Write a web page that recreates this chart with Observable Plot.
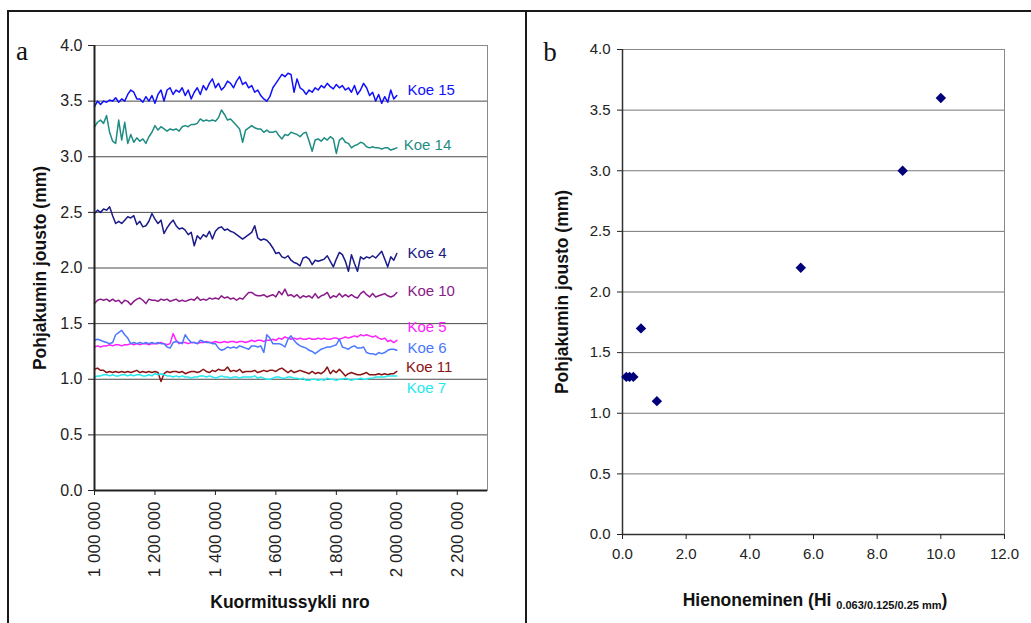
<!DOCTYPE html>
<html><head><meta charset="utf-8">
<script src="https://cdn.jsdelivr.net/npm/d3@7"></script>
<script src="https://cdn.jsdelivr.net/npm/@observablehq/plot@0.6"></script>
<style>
html,body{margin:0;padding:0;background:#fff;}
#wrap{position:relative;width:1031px;height:623px;overflow:hidden;background:#fff;}
#left{position:absolute;left:0;top:0;}
#right{position:absolute;left:527px;top:0;}
.bar{position:absolute;background:#1a1a1a;}
</style></head><body>
<div id="wrap"><div id="left"></div><div id="right"></div>
<div class="bar" style="left:8px;top:10px;width:1023px;height:2px"></div>
<div class="bar" style="left:7px;top:10px;width:2px;height:613px"></div>
<div class="bar" style="left:525px;top:10px;width:2px;height:613px"></div>
</div>
<script>
// ---------- Panel a data ----------
const cycles = [1000000,1010000,1020000,1030000,1040000,1050000,1060000,1070000,1080000,1090000,
1100000,1110000,1120000,1130000,1140000,1150000,1160000,1170000,1180000,1190000,
1200000,1210000,1220000,1230000,1240000,1250000,1260000,1270000,1280000,1290000,
1300000,1310000,1320000,1330000,1340000,1350000,1360000,1370000,1380000,1390000,
1400000,1410000,1420000,1430000,1440000,1450000,1460000,1470000,1480000,1490000,
1500000,1510000,1520000,1530000,1540000,1550000,1560000,1570000,1580000,1590000,
1600000,1610000,1620000,1630000,1640000,1650000,1660000,1670000,1680000,1690000,
1700000,1710000,1720000,1730000,1740000,1750000,1760000,1770000,1780000,1790000,
1800000,1810000,1820000,1830000,1840000,1850000,1860000,1870000,1880000,1890000,
1900000,1910000,1920000,1930000,1940000,1950000,1960000,1970000,1980000,1990000,
2000000];

const koe15 = [3.45,3.50,3.47,3.50,3.49, 3.51,3.50,3.53,3.49,3.52, 3.50,3.56,3.60,3.58,3.52,
3.52,3.49,3.54,3.50,3.55, 3.48,3.56,3.60,3.50,3.60, 3.62,3.56,3.60,3.58,3.62,
3.55,3.60,3.52,3.58,3.62, 3.56,3.64,3.60,3.66,3.70, 3.62,3.66,3.60,3.63,3.68,
3.66,3.62,3.68,3.72,3.65, 3.67,3.62,3.64,3.58,3.60, 3.55,3.52,3.50,3.54,3.62,
3.66,3.70,3.74,3.72,3.75, 3.74,3.58,3.70,3.62,3.60, 3.56,3.60,3.58,3.62,3.60,
3.64,3.62,3.66,3.63,3.61, 3.65,3.62,3.64,3.60,3.62, 3.58,3.64,3.56,3.60,3.66,
3.62,3.55,3.58,3.50,3.56, 3.48,3.54,3.49,3.60,3.52, 3.55];

const koe14 = [3.27,3.31,3.33,3.30,3.37, 3.22,3.14,3.12,3.33,3.15, 3.31,3.12,3.20,3.13,3.17,
3.14,3.16,3.12,3.18,3.22, 3.28,3.24,3.27,3.25,3.23, 3.25,3.24,3.25,3.23,3.27,
3.28,3.27,3.29,3.29,3.30, 3.34,3.32,3.33,3.32,3.33, 3.32,3.35,3.42,3.38,3.33,
3.34,3.31,3.28,3.25,3.13, 3.24,3.26,3.28,3.26,3.25, 3.25,3.22,3.24,3.22,3.22,
3.23,3.19,3.16,3.20,3.19, 3.22,3.21,3.20,3.18,3.21, 3.22,3.14,3.05,3.15,3.16,
3.14,3.17,3.15,3.18,3.16, 3.03,3.15,3.17,3.13,3.12, 3.08,3.10,3.11,3.13,3.12,
3.09,3.08,3.09,3.08,3.08, 3.07,3.08,3.08,3.06,3.07, 3.08];

const koe4 = [2.49,2.52,2.50,2.53,2.52, 2.55,2.47,2.40,2.42,2.40, 2.43,2.46,2.45,2.47,2.39,
2.42,2.37,2.38,2.42,2.49, 2.44,2.40,2.43,2.31,2.36, 2.40,2.43,2.38,2.35,2.36,
2.34,2.30,2.32,2.20,2.29, 2.26,2.30,2.28,2.33,2.26, 2.33,2.36,2.37,2.34,2.35,
2.33,2.32,2.30,2.28,2.26, 2.28,2.30,2.32,2.38,2.27, 2.25,2.26,2.25,2.22,2.18,
2.13,2.14,2.10,2.09,2.11, 2.07,2.05,2.04,2.02,2.09, 2.10,2.08,2.03,2.07,2.06,
2.07,2.08,2.11,2.06,2.01, 2.08,2.14,2.12,2.06,1.97, 2.12,2.04,1.97,2.10,2.08,
2.10,2.09,2.11,2.09,2.12, 2.15,2.08,2.01,2.10,2.07, 2.13];

const koe10 = [1.68,1.71,1.72,1.71,1.72, 1.70,1.72,1.70,1.71,1.68, 1.71,1.70,1.67,1.70,1.72,
1.73,1.71,1.68,1.72,1.71, 1.71,1.70,1.72,1.71,1.72, 1.70,1.71,1.72,1.70,1.71,
1.70,1.71,1.72,1.71,1.74, 1.71,1.72,1.71,1.73,1.72, 1.73,1.72,1.75,1.73,1.74,
1.72,1.73,1.71,1.73,1.72, 1.75,1.78,1.78,1.76,1.75, 1.75,1.76,1.74,1.75,1.76,
1.74,1.79,1.76,1.81,1.75, 1.76,1.74,1.76,1.73,1.75, 1.74,1.75,1.73,1.77,1.73,
1.75,1.76,1.78,1.73,1.75, 1.74,1.77,1.74,1.76,1.74, 1.76,1.74,1.73,1.77,1.79,
1.76,1.74,1.77,1.74,1.75, 1.76,1.77,1.75,1.74,1.75, 1.78];

const koe5 = [1.29,1.30,1.29,1.30,1.30, 1.31,1.30,1.31,1.31,1.30, 1.31,1.31,1.32,1.31,1.32,
1.31,1.32,1.32,1.31,1.32, 1.32,1.32,1.33,1.32,1.31, 1.32,1.41,1.35,1.32,1.33,
1.33,1.32,1.33,1.33,1.32, 1.33,1.33,1.34,1.33,1.33, 1.34,1.33,1.33,1.34,1.33,
1.34,1.34,1.33,1.34,1.34, 1.33,1.34,1.35,1.34,1.35, 1.35,1.34,1.35,1.35,1.36,
1.35,1.37,1.36,1.38,1.37, 1.36,1.37,1.36,1.37,1.36, 1.36,1.37,1.36,1.36,1.37,
1.36,1.37,1.36,1.36,1.37, 1.37,1.36,1.37,1.38,1.37, 1.38,1.39,1.38,1.40,1.39,
1.40,1.39,1.38,1.39,1.37, 1.36,1.37,1.34,1.35,1.33, 1.35];

const koe6 = [1.35,1.36,1.35,1.34,1.33, 1.32,1.33,1.40,1.42,1.44, 1.40,1.37,1.32,1.33,1.32,
1.33,1.32,1.33,1.32,1.33, 1.32,1.33,1.32,1.32,1.29, 1.28,1.33,1.34,1.33,1.32,
1.40,1.36,1.33,1.33,1.32, 1.35,1.34,1.33,1.33,1.32, 1.32,1.28,1.26,1.27,1.29,
1.28,1.29,1.28,1.30,1.29, 1.28,1.27,1.30,1.30,1.29, 1.30,1.24,1.40,1.37,1.32,
1.32,1.32,1.31,1.29,1.36, 1.39,1.35,1.32,1.30,1.29, 1.28,1.26,1.25,1.23,1.25,
1.27,1.28,1.29,1.29,1.30, 1.31,1.36,1.29,1.28,1.27, 1.29,1.30,1.28,1.28,1.29,
1.24,1.23,1.23,1.22,1.24, 1.23,1.24,1.26,1.27,1.27, 1.26];

const koe11 = [1.09,1.10,1.08,1.08,1.06, 1.07,1.06,1.07,1.06,1.07, 1.06,1.07,1.06,1.07,1.08,
1.06,1.07,1.06,1.07,1.06, 1.07,1.06,0.98,1.05,1.07, 1.06,1.07,1.07,1.06,1.07,
1.05,1.06,1.07,1.07,1.06, 1.07,1.09,1.07,1.06,1.08, 1.07,1.09,1.08,1.08,1.11,
1.07,1.08,1.07,1.09,1.06, 1.07,1.07,1.07,1.08,1.06, 1.07,1.08,1.07,1.08,1.08,
1.07,1.09,1.10,1.08,1.06, 1.08,1.06,1.07,1.08,1.07, 1.06,1.05,1.07,1.05,1.06,
1.05,1.07,1.11,1.05,1.08, 1.06,1.09,1.06,1.03,1.05, 1.06,1.05,1.04,1.04,1.05,
1.06,1.04,1.04,1.04,1.05, 1.04,1.05,1.04,1.05,1.05, 1.07];

const koe7 = [1.02,1.03,1.03,1.04,1.04, 1.03,1.04,1.03,1.03,1.04, 1.04,1.03,1.04,1.03,1.04,
1.04,1.03,1.03,1.04,1.03, 1.05,1.04,1.05,1.04,1.03, 1.03,1.02,1.03,1.02,1.03,
1.02,1.02,1.01,1.02,1.02, 1.03,1.03,1.02,1.03,1.02, 1.01,1.02,1.03,1.02,1.02,
1.01,1.02,1.02,1.01,1.02, 1.02,1.02,1.02,1.03,1.01, 1.02,1.01,1.00,1.00,1.01,
1.02,1.02,1.01,1.01,1.02, 1.02,1.01,1.01,1.00,1.01, 0.99,0.99,1.00,1.00,0.99,
1.00,0.99,1.01,1.00,1.00, 0.99,1.00,1.00,1.01,1.00, 0.99,1.00,1.00,1.01,1.00,
1.00,1.01,1.01,1.02,1.02, 1.02,1.02,1.03,1.03,1.03, 1.03];

const seriesNames  = ["Koe 15","Koe 14","Koe 4","Koe 10","Koe 5","Koe 6","Koe 11","Koe 7"];
const seriesValues = [koe15, koe14, koe4, koe10, koe5, koe6, koe11, koe7];
const seriesColors = ["#1010ff","#1f8c84","#1a1a8a","#8a1a8a","#ff22ff","#4a78ff","#8a1414","#22e8f0"];
// label anchors (in data units: cycle, mm)
const labelCycle = [2035000,2023000,2035000,2035000,2035000,2035000,2030000,2033000];
const labelMm    = [3.60,3.10,2.13,1.79,1.465,1.276,1.105,0.917];

const xTicksA = [1000000,1200000,1400000,1600000,1800000,2000000,2200000];
const yTicks  = [0,0.5,1,1.5,2,2.5,3,3.5,4];

// ---------- Panel b data ----------
const hiValues     = [10.0, 8.8, 5.6, 0.58, 1.08, 0.12, 0.22, 0.34];
const joustoValues = [3.60, 3.00, 2.20, 1.70, 1.10, 1.30, 1.30, 1.30];
const xTicksB = [0,2,4,6,8,10,12];

// ---------- build tables ----------
const table = [];
seriesNames.forEach((name,k) => seriesValues[k].forEach((v,i) => table.push({series:name, cycle:cycles[i], value:v})));
const labels = seriesNames.map((name,k) => ({series:name, cycle:labelCycle[k], mm:labelMm[k]}));
const points = hiValues.map((h,i) => ({hi:h, jousto:joustoValues[i]}));

const fmtSpace = d3.formatLocale({decimal:".", thousands:" ", grouping:[3], currency:["",""]}).format(",");
const f1 = d3.format(".1f");
const FONT = '"Liberation Sans", Arial, sans-serif';

const left = Plot.plot({
  width:527, height:623, marginLeft:94, marginRight:40, marginTop:45, marginBottom:133,
  style:{background:"transparent", fontFamily:FONT, color:"#222", overflow:"visible"},
  x:{type:"linear", domain:[1000000,2300000]},
  y:{domain:[0,4]},
  color:{domain:seriesNames, range:seriesColors},
  marks:[
    Plot.gridY(yTicks,{stroke:"#4a4a4a", strokeOpacity:1}),
    Plot.frame({stroke:"#8a8a8a"}),
    Plot.line(table,{x:"cycle", y:"value", z:"series", stroke:"series", strokeWidth:1.5}),
    Plot.ruleX([1000000],{stroke:"#222", strokeWidth:2}),
    Plot.ruleY([0],{stroke:"#222", strokeWidth:2}),
    Plot.axisY(yTicks,{tickFormat:f1, tickSize:6, tickPadding:6, fontSize:16, label:null}),
    Plot.axisX(xTicksA,{tickFormat:fmtSpace, tickRotate:-90, tickSize:5, tickPadding:6, fontSize:17, label:null}),
    Plot.text(labels,{x:"cycle", y:"mm", text:"series", fill:"series", textAnchor:"start", fontSize:15})
  ]
});
document.getElementById("left").appendChild(left);

const right = Plot.plot({
  width:504, height:623, marginLeft:95, marginRight:27, marginTop:49, marginBottom:89,
  style:{background:"transparent", fontFamily:FONT, color:"#222", overflow:"visible"},
  x:{domain:[0,12]},
  y:{domain:[0,4]},
  marks:[
    Plot.gridY(yTicks,{stroke:"#777", strokeOpacity:1}),
    Plot.frame({stroke:"#8a8a8a"}),
    Plot.ruleX([0],{stroke:"#333", strokeWidth:1.5}),
    Plot.ruleY([0],{stroke:"#333", strokeWidth:1.5}),
    Plot.axisY(yTicks,{tickFormat:f1, tickSize:5, tickPadding:7, fontSize:15, label:null}),
    Plot.axisX(xTicksB,{tickFormat:f1, tickSize:5, tickPadding:9, fontSize:15, label:null}),
    Plot.dot(points,{x:"hi", y:"jousto", symbol:"diamond2", r:4.7, fill:"#00007a", stroke:"none"})
  ]
});
document.getElementById("right").appendChild(right);

// ---------- titles ----------
const sl = d3.select(left);
sl.append("text").attr("transform","translate(40,268) rotate(-90)").attr("text-anchor","middle")
  .attr("dy","0.35em").attr("font-family",FONT).attr("font-weight","bold").attr("font-size",17.5)
  .attr("fill","#111").text("Pohjakumin jousto (mm)");
sl.append("text").attr("x",290).attr("y",608).attr("text-anchor","middle")
  .attr("font-family",FONT).attr("font-weight","bold").attr("font-size",17.5)
  .attr("fill","#111").text("Kuormitussykli nro");
sl.append("text").attr("x",22).attr("y",60).attr("font-family",'"Liberation Serif", "Times New Roman", serif')
  .attr("font-size",27).attr("fill","#111").text("a");

const sr = d3.select(right);
sr.append("text").attr("transform","translate(35,292) rotate(-90)").attr("text-anchor","middle")
  .attr("dy","0.35em").attr("font-family",FONT).attr("font-weight","bold").attr("font-size",17.5)
  .attr("fill","#111").text("Pohjakumin jousto (mm)");
const xt = sr.append("text").attr("x",288).attr("y",606).attr("text-anchor","middle")
  .attr("font-family",FONT).attr("font-weight","bold").attr("font-size",17.5).attr("fill","#111");
xt.append("tspan").text("Hienoneminen (Hi ");
xt.append("tspan").attr("font-size",11).attr("dy",3).text("0.063/0.125/0.25 mm");
xt.append("tspan").attr("dy",-3).text(")");
sr.append("text").attr("x",23).attr("y",61).attr("font-family",'"Liberation Serif", "Times New Roman", serif')
  .attr("font-size",27).attr("fill","#111").text("b");
</script>
</body></html>
